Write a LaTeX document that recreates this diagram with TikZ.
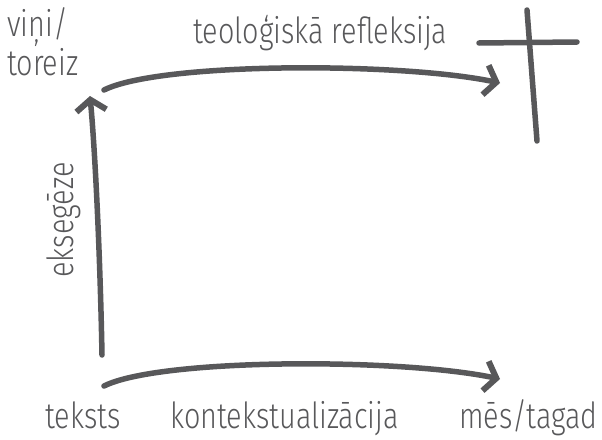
\documentclass[tikz,border=0pt]{standalone}
\usepackage{fontspec}
\setmainfont{Fira Sans Light}[FakeStretch=0.8]
\usepackage{tikz}
\usetikzlibrary{arrows.meta}
\definecolor{chalk}{RGB}{88,88,90}
\tikzset{word/.style={text=chalk,inner sep=0pt,font=\fontsize{36}{35}\selectfont},
    stroke/.style={draw=chalk,line width=5.5pt,line cap=round},
    flow/.style={stroke,-{Straight Barb[length=11pt,width=30pt,line width=6pt]}}}

\begin{document}
\begin{tikzpicture}[x=1pt,y=-1pt]
\useasboundingbox (0,0) rectangle (602,439);
\node[word,anchor=base west,align=left] (past) at (7,75) {viņi/\\toreiz};
\node[word,anchor=base west] (reflect) at (193,43) {teoloģiskā refleksija};
\node[word,anchor=base west] (text) at (45,428) {teksts};
\node[word,anchor=base west] (context) at (170,428) {kontekstualizācija};
\node[word,anchor=base west] (now) at (459,428) {mēs/tagad};
\node[word,rotate=90,anchor=base] (exeg) at (73,220) {eksegēze};
% arrow ends
\coordinate (thenstart) at (104,90);
\coordinate (thenend) at (500,83);
\coordinate (textstart) at (104,386);
\coordinate (textend) at (500,379);
\coordinate (textfoot) at (102,355);
\coordinate (thenhead) at (90,96);
\draw[flow] (thenstart) .. controls (160,62) and (400,62) .. (thenend);
\draw[flow] (textstart) .. controls (160,358) and (400,358) .. (textend);
\draw[flow] (textfoot) .. controls (100,250) and (95,150) .. (thenhead);
% cross
\draw[stroke] (527,10) -- (537,141);
\draw[stroke] (479,43) -- (577,42);
\end{tikzpicture}
\end{document}
